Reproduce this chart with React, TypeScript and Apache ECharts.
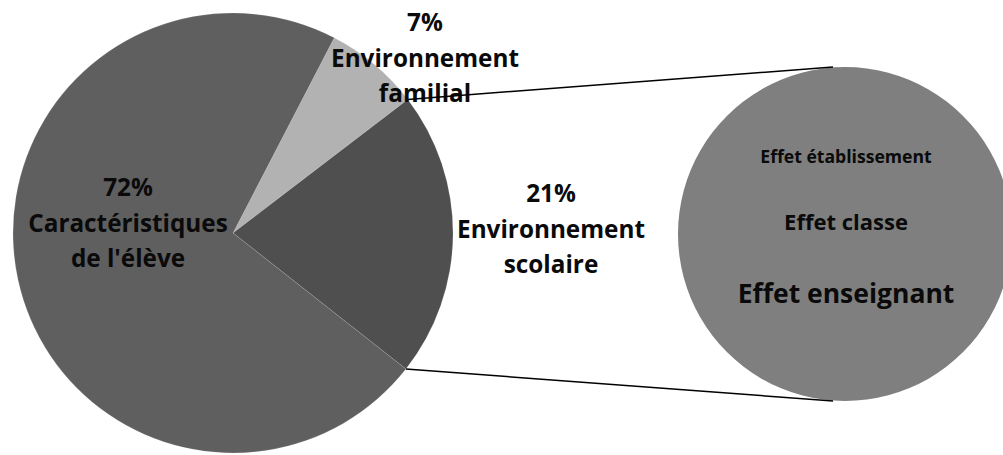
import React, { useEffect, useRef } from "react";
import * as echarts from "echarts";

const categories = ["Environnement\nfamilial", "Environnement\nscolaire", "Caractéristiques\nde l'élève"];
const shares = [7, 21, 72];
const sliceColors = ["#b2b2b2", "#4f4f4f", "#5f5f5f"];
const detailLabels = ["Effet établissement", "Effet classe", "Effet enseignant"];
const detailSizes = [17.6, 22, 26.5];

export default function App() {
  const ref = useRef<HTMLDivElement>(null);
  useEffect(() => {
    document.body.style.margin = "0";
    const chart = echarts.init(ref.current!, null, { renderer: "svg" });
    const cx = 233, cy = 233, r = 220;
    const startAngle = 62.6;
    const total = shares.reduce((a, b) => a + b, 0);
    const a0 = startAngle - (shares[0] / total) * 360;
    const a1 = a0 - (shares[1] / total) * 360;
    const pt = (deg: number) => [cx + r * Math.cos((deg * Math.PI) / 180), cy - r * Math.sin((deg * Math.PI) / 180)];
    const p0 = pt(a0);
    const p1 = pt(a1);
    const ccx = 845, ccy = 234, cr = 167;
    const labelPos = [
      [425, 57],
      [551, 228],
      [128, 222],
    ];
    const font = "Open Sans";
    chart.setOption({
      animation: false,
      series: [
        {
          type: "pie",
          center: [cx, cy],
          radius: r,
          startAngle,
          clockwise: true,
          silent: true,
          avoidLabelOverlap: false,
          itemStyle: { borderColor: "rgba(255,255,255,0.2)", borderWidth: 0.6 },
          label: {
            show: true,
            formatter: "{c}%\n{b}",
            fontFamily: font,
            fontWeight: "bold",
            fontSize: 24.3,
            lineHeight: 35.5,
            color: "#0a0a0a",
            align: "center",
          },
          labelLine: { show: false },
          labelLayout: (p: any) => ({
            x: labelPos[p.dataIndex][0],
            y: labelPos[p.dataIndex][1],
            align: "center",
            verticalAlign: "middle",
            hideOverlap: false,
          }),
          data: categories.map((name, i) => ({
            name,
            value: shares[i],
            itemStyle: { color: sliceColors[i] },
            label: { position: i === 2 ? "inside" : "outside" },
          })),
        },
        {
          type: "pie",
          center: [ccx, ccy],
          radius: cr,
          silent: true,
          label: { show: false },
          labelLine: { show: false },
          data: [{ name: "detail", value: 1, itemStyle: { color: "#7f7f7f" } }],
        },
      ],
      graphic: [
        {
          type: "line",
          z: 100,
          shape: { x1: p0[0], y1: p0[1], x2: 833, y2: 67 },
          style: { stroke: "#000", lineWidth: 1.5 },
        },
        {
          type: "line",
          z: 100,
          shape: { x1: p1[0], y1: p1[1], x2: 833, y2: 401 },
          style: { stroke: "#000", lineWidth: 1.5 },
        },
        ...detailLabels.map((t, i) => ({
          type: "text",
          z: 100,
          x: 846,
          y: [156, 221, 293][i],
          style: {
            text: t,
            fontFamily: font,
            fontWeight: "bold",
            fontSize: detailSizes[i],
            fill: "#0a0a0a",
            align: "center",
            verticalAlign: "middle",
          },
        })),
      ],
    });
    return () => chart.dispose();
  }, []);
  return <div ref={ref} style={{ width: 1003, height: 455 }} />;
}
